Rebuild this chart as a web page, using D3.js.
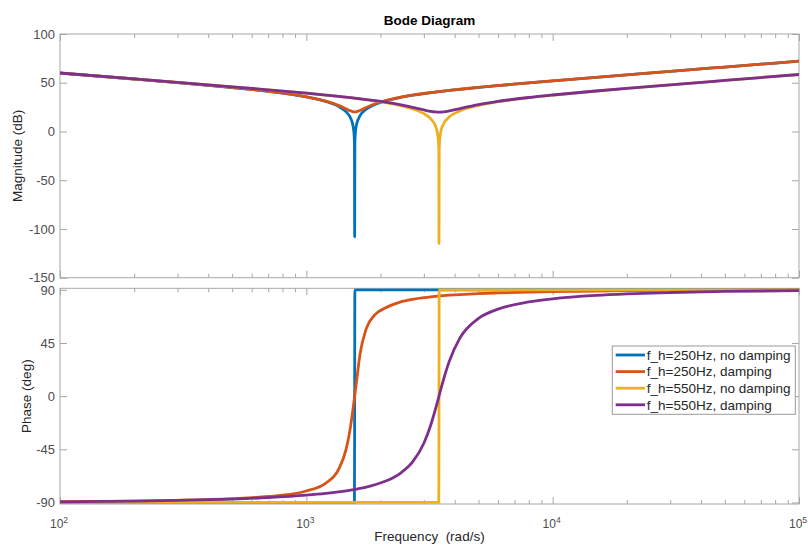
<!DOCTYPE html>
<html>
<head>
<meta charset="utf-8">
<script src="https://cdn.jsdelivr.net/npm/d3@7"></script>
<style>
  body { margin: 0; background: #fff; }
  svg { display: block; font-family: "Liberation Sans", Arial, sans-serif; }
</style>
</head>
<body>
<div id="chart"></div>
<script>
// frequency samples (rad/s)
const freq = [100, 200, 300, 500, 700,
    1000, 1200, 1350, 1450, 1500,
    1540, 1560, 1568, 1571, 1574,
    1582, 1600, 1650, 1750, 1900,
    2100, 2400, 2700, 3000, 3200,
    3330, 3400, 3440, 3450, 3456,
    3462, 3475, 3520, 3600, 3800,
    4200, 5000, 6000, 8000, 10000,
    15000, 20000, 30000, 50000, 100000];

// magnitude (dB)
const magBlue = [59.96, 53.84, 50.14, 45.09, 41.18,
    35.49, 30.81, 25.74, 20.18, 15.40,
    8.09, -0.97, -12.27, -108, -12.30,
    -1.03, 7.35, 15.92, 22.78, 27.73,
    31.48, 34.90, 37.19, 38.91, 39.86,
    40.41, 40.70, 40.85, 40.89, 40.92,
    40.93, 40.99, 41.16, 41.44, 42.12,
    43.30, 45.23, 47.10, 49.88, 51.94,
    55.58, 58.12, 61.67, 66.12, 72.15];
const magOrange = [59.97, 53.84, 50.14, 45.11, 41.21,
    35.61, 31.17, 26.80, 23.18, 21.41,
    20.42, 20.20, 20.16, 20.16, 20.16,
    20.20, 20.38, 21.55, 24.67, 28.43,
    31.79, 35.05, 37.27, 38.97, 39.91,
    40.46, 40.73, 40.89, 40.92, 40.95,
    40.97, 41.02, 41.19, 41.47, 42.14,
    43.33, 45.24, 47.11, 49.88, 51.94,
    55.58, 58.12, 61.67, 66.12, 72.15];
const magYellow = [59.99, 53.95, 50.39, 45.84, 42.74,
    39.24, 37.30, 35.95, 35.09, 34.67,
    34.33, 34.16, 34.09, 34.07, 34.04,
    33.98, 33.82, 33.40, 32.57, 31.29,
    29.56, 26.68, 23.18, 18.30, 12.99,
    6.65, -0.49, -11.42, -19.96, -115,
    -19.97, -9.97, 0.52, 7.47, 14.80,
    21.10, 26.79, 30.52, 34.73, 37.35,
    41.51, 44.22, 47.89, 52.39, 58.45];
const magPurple = [59.99, 53.95, 50.40, 45.85, 42.76,
    39.29, 37.38, 36.06, 35.22, 34.81,
    34.48, 34.32, 34.25, 34.23, 34.20,
    34.14, 34.00, 33.59, 32.79, 31.60,
    30.00, 27.50, 24.84, 22.16, 20.67,
    20.06, 19.90, 19.86, 19.85, 19.86,
    19.86, 19.86, 19.91, 20.10, 21.04,
    23.53, 27.59, 30.88, 34.87, 37.43,
    41.54, 44.23, 47.89, 52.40, 58.45];

// phase (deg)
const phaseBlue = [-90, -90, -90, -90, -90,
    -90, -90, -90, -90, -90,
    -90, -90, -90, 0, 90,
    90, 90, 90, 90, 90,
    90, 90, 90, 90, 90,
    90, 90, 90, 90, 90,
    90, 90, 90, 90, 90,
    90, 90, 90, 90, 90,
    90, 90, 90, 90, 90];
const phaseOrange = [-89.41, -88.81, -88.18, -86.76, -84.92,
    -80.28, -73.65, -62.27, -45.08, -30.04,
    -13.99, -5.02, -1.37, 0, 1.37,
    4.98, 12.88, 35.0, 57.0, 69.0,
    74.79, 79.62, 81.99, 83.41, 84.09,
    84.45, 84.63, 84.73, 84.75, 84.76,
    84.78, 84.80, 84.90, 85.07, 85.44,
    86.02, 86.81, 87.42, 88.13, 88.52,
    89.03, 89.28, 89.52, 89.71, 89.86];
const phaseYellow = [-90, -90, -90, -90, -90,
    -90, -90, -90, -90, -90,
    -90, -90, -90, -90, -90,
    -90, -90, -90, -90, -90,
    -90, -90, -90, -90, -90,
    -90, -90, -90, -90, 0,
    90, 90, 90, 90, 90,
    90, 90, 90, 90, 90,
    90, 90, 90, 90, 90];
const phasePurple = [-89.44, -88.87, -88.30, -87.12, -85.89,
    -83.87, -82.35, -81.09, -80.18, -79.70,
    -79.30, -79.09, -79.01, -78.98, -78.94,
    -78.86, -78.67, -78.13, -76.96, -75.00,
    -71.87, -65.49, -55.72, -39.87, -24.38,
    -12.33, -5.49, -1.56, -0.59, 0,
    0.58, 1.85, 6.16, 13.51, 29.21,
    49.09, 65.77, 73.67, 79.76, 82.40,
    85.27, 86.53, 87.73, 88.65, 89.33];

const seriesNames = ["f_h=250Hz, no damping", "f_h=250Hz, damping",
    "f_h=550Hz, no damping", "f_h=550Hz, damping"];
const seriesColors = ["#0072BD", "#D95319", "#EDB120", "#7E2F8E"];

// tick labels
const magTicks = [-150, -100, -50, 0, 50, 100];
const phaseTicks = [-90, -45, 0, 45, 90];
const freqTicks = [1e2, 1e3, 1e4, 1e5];

const series = seriesNames.map((name, i) => ({
    name: name,
    color: seriesColors[i],
    mag: [magBlue, magOrange, magYellow, magPurple][i],
    phase: [phaseBlue, phaseOrange, phaseYellow, phasePurple][i]
}));

const width = 808, height = 545;
const left = 60, right = 799;
const magBox = { top: 34, bottom: 277.7 };
const phBox = { top: 288.3, bottom: 504 };
const axisColor = "#a6a6a6";
const tickTextColor = "#4d4d4d";

const svg = d3.select("#chart")
    .append("svg")
    .attr("width", width)
    .attr("height", height);

const x = d3.scaleLog()
    .domain([1e2, 1e5])
    .range([left, right]);

const yMag = d3.scaleLinear()
    .domain([-150, 100])
    .range([magBox.bottom, magBox.top]);

const yPh = d3.scaleLinear()
    .domain([-91.3, 91.3])
    .range([phBox.bottom, phBox.top]);

const minorTicks = [2, 3, 4].flatMap(e => d3.range(2, 10).map(k => k * Math.pow(10, e)));

function drawPanel(id, yScale, box, yTicks, withXLabels) {
    const g = svg.append("g");

    // clip region for the curves
    svg.append("clipPath")
        .attr("id", id)
        .append("rect")
        .attr("x", left)
        .attr("y", box.top)
        .attr("width", right - left)
        .attr("height", box.bottom - box.top);

    // Y Axis left
    g.append("g")
        .attr("transform", `translate(${left}, 0)`)
        .call(d3.axisLeft(yScale).tickValues(yTicks).tickSize(-7).tickPadding(5)
            .tickFormat(d => String(d)));

    // Y Axis right
    g.append("g")
        .attr("transform", `translate(${right}, 0)`)
        .call(d3.axisRight(yScale).tickValues(yTicks).tickSize(-7).tickFormat(""));

    // X Axis bottom (major + minor)
    const xb = g.append("g")
        .attr("transform", `translate(0, ${box.bottom})`)
        .call(d3.axisBottom(x).tickValues(freqTicks).tickSize(-7).tickPadding(15)
            .tickFormat(() => ""));
    g.append("g")
        .attr("transform", `translate(0, ${box.bottom})`)
        .call(d3.axisBottom(x).tickValues(minorTicks).tickSize(-4).tickFormat(""));

    // X Axis top (major + minor)
    g.append("g")
        .attr("transform", `translate(0, ${box.top})`)
        .call(d3.axisTop(x).tickValues(freqTicks).tickSize(-7).tickFormat(""));
    g.append("g")
        .attr("transform", `translate(0, ${box.top})`)
        .call(d3.axisTop(x).tickValues(minorTicks).tickSize(-4).tickFormat(""));

    g.selectAll(".domain").remove();
    g.selectAll(".tick line").attr("stroke", axisColor);
    g.selectAll("g").attr("font-family", null).attr("font-size", null);
    g.selectAll(".tick text")
        .attr("fill", tickTextColor)
        .attr("font-size", "13px");

    if (withXLabels) {
        xb.selectAll(".tick text").each(function(d) {
            const t = d3.select(this)
                .attr("x", -1.5)
                .attr("font-size", "12px");
            t.append("tspan").text("10");
            t.append("tspan")
                .attr("dy", "-0.55em")
                .attr("font-size", "8.5px")
                .text(Math.round(Math.log10(d)));
        });
    }

    // box
    g.append("rect")
        .attr("x", left)
        .attr("y", box.top)
        .attr("width", right - left)
        .attr("height", box.bottom - box.top)
        .attr("fill", "none")
        .attr("stroke", axisColor)
        .attr("stroke-width", 1);

    return g;
}

drawPanel("clip-mag", yMag, magBox, magTicks, false);
drawPanel("clip-ph", yPh, phBox, phaseTicks, true);

// Curves
const lineFor = (yScale) => d3.line()
    .x((d, i) => x(freq[i]))
    .y(d => yScale(d))
    .curve(d3.curveMonotoneX);

svg.append("g")
    .attr("clip-path", "url(#clip-mag)")
    .selectAll("path")
    .data(series)
    .enter()
    .append("path")
    .attr("fill", "none")
    .attr("stroke", d => d.color)
    .attr("stroke-width", 2.8)
    .attr("stroke-linejoin", "round")
    .attr("d", d => lineFor(yMag)(d.mag));

svg.append("g")
    .attr("clip-path", "url(#clip-ph)")
    .selectAll("path")
    .data(series)
    .enter()
    .append("path")
    .attr("fill", "none")
    .attr("stroke", d => d.color)
    .attr("stroke-width", 2.8)
    .attr("stroke-linejoin", "miter")
    .attr("d", d => lineFor(yPh)(d.phase));

// Legend
const legend = svg.append("g")
    .attr("transform", "translate(612.3, 346)");

legend.append("rect")
    .attr("width", 183)
    .attr("height", 68.3)
    .attr("fill", "white")
    .attr("stroke", "#9a9a9a")
    .attr("stroke-width", 1);

const rows = legend.selectAll("g.row")
    .data(series)
    .enter()
    .append("g")
    .attr("class", "row")
    .attr("transform", (d, i) => `translate(0, ${9 + i * 16.6})`);

rows.append("line")
    .attr("x1", 3.4)
    .attr("x2", 32.7)
    .attr("stroke", d => d.color)
    .attr("stroke-width", 2.8);

rows.append("text")
    .attr("x", 34.5)
    .attr("dy", "0.35em")
    .attr("fill", "#262626")
    .attr("font-size", "13.5px")
    .text(d => d.name);

// Title
svg.append("text")
    .attr("x", (left + right) / 2)
    .attr("y", 24.5)
    .attr("text-anchor", "middle")
    .attr("font-weight", "bold")
    .attr("font-size", "13.5px")
    .attr("fill", "#000")
    .text("Bode Diagram");

// Y Axis Titles
svg.append("text")
    .attr("transform", `translate(22, ${(magBox.top + magBox.bottom) / 2}) rotate(-90)`)
    .attr("text-anchor", "middle")
    .attr("fill", "#262626")
    .attr("font-size", "13.5px")
    .text("Magnitude (dB)");

svg.append("text")
    .attr("transform", `translate(30.5, ${(phBox.top + phBox.bottom) / 2}) rotate(-90)`)
    .attr("text-anchor", "middle")
    .attr("fill", "#262626")
    .attr("font-size", "13.5px")
    .text("Phase (deg)");

// X Axis Title
svg.append("text")
    .attr("x", (left + right) / 2)
    .attr("y", 541)
    .attr("text-anchor", "middle")
    .attr("fill", "#262626")
    .attr("font-size", "13.5px")
    .style("white-space", "pre")
    .text("Frequency  (rad/s)");
</script>
</body>
</html>
